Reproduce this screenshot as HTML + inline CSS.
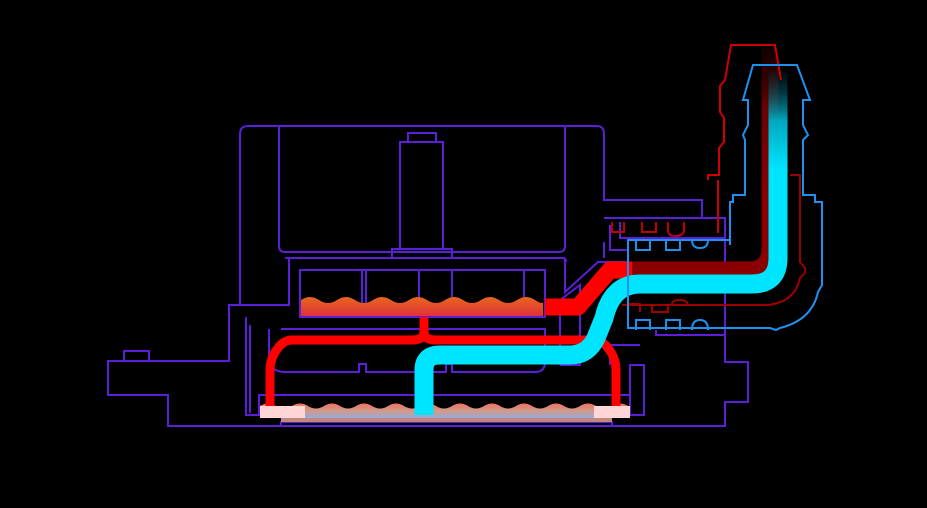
<!DOCTYPE html>
<html><head><style>html,body{margin:0;padding:0;background:#000;width:927px;height:508px;overflow:hidden}</style></head>
<body>
<svg width="927" height="508" viewBox="0 0 927 508" xmlns="http://www.w3.org/2000/svg">
<defs>
<linearGradient id="liq" x1="0" y1="0" x2="0" y2="1"><stop offset="0" stop-color="#e8661e"/><stop offset="1" stop-color="#e0303a"/></linearGradient>
<linearGradient id="cyfade" gradientUnits="userSpaceOnUse" x1="0" y1="170" x2="0" y2="72"><stop offset="0" stop-color="#00e5ff"/><stop offset="0.5" stop-color="#00a8c0"/><stop offset="1" stop-color="#002a30" stop-opacity="0.3"/></linearGradient>
<linearGradient id="rdfade" gradientUnits="userSpaceOnUse" x1="0" y1="200" x2="0" y2="48"><stop offset="0" stop-color="#8a0000"/><stop offset="0.6" stop-color="#6a0000"/><stop offset="1" stop-color="#300000" stop-opacity="0.4"/></linearGradient>
<linearGradient id="plate" x1="0" y1="0" x2="0" y2="1"><stop offset="0" stop-color="#f07060"/><stop offset="0.5" stop-color="#d09a88"/><stop offset="1" stop-color="#9ad"/></linearGradient>
</defs>
<g fill="none" stroke="#5a1fd6" stroke-width="2">
<path d="M108 361 H229 V305 H240 V134 Q240 126 248 126 H597 Q604 126 604 134 V200 H702 V218 H725 V362 H748 V402 H725 V426 H168 V395 H108 Z"/>
<path d="M124 361 V351 H149 V361"/>
<path d="M240 305 H289 V258"/>
<path d="M279 126 V246 Q279 252 285 252 H559 Q565 252 565 246 V126"/>
<path d="M285 258 H563 Q566 258 566 262"/>
<rect x="400" y="142" width="43" height="107"/>
<rect x="408" y="133" width="28" height="9"/>
<rect x="392" y="249" width="60" height="9"/>
<path d="M604 218 H702"/>
<path d="M565 258 V292 L598 262 H628 V252"/>
<path d="M610 225 V250 H628"/>
<path d="M604 242 V258"/>
<rect x="300" y="270" width="245" height="47"/>
<path d="M362 270 V317 M366 270 V317 M419 270 V317 M452 270 V317 M524 270 V317"/>
<path d="M281 329 H545 V362 Q545 372 535 372 H452 V364 H446 V372 H366 V364 H359 V372 H285 Q269 372 269 356 V329"/>
<path d="M246 317 V415 H259"/>
<path d="M250 325 V413"/>
<rect x="259" y="395" width="371" height="20"/>
<path d="M630 395 V365 H644 V415 H630"/>
<path d="M610 365 V345 H640"/>
<path d="M560 365 V300 L580 285 V365 H560"/>
<path d="M168 426 H281 V422 H612 V426"/>
<path d="M656 330 V335 H725"/>
<path d="M620 222 V238 H725"/>
</g>
<path d="M301 300 q9 -6 18 0 t18 0 t18 0 t18 0 t18 0 t18 0 t18 0 t18 0 t18 0 t18 0 t18 0 t18 0 t18 0 t8 0 V316 H301 Z" fill="url(#liq)"/>
<path d="M260 406 q8 -5 16 0 t16 0 t16 0 t16 0 t16 0 t16 0 t16 0 t16 0 t16 0 t16 0 t16 0 t16 0 t16 0 t16 0 t16 0 t16 0 t16 0 t16 0 t16 0 t16 0 t16 0 t16 0 t16 0 V418 H260 Z" fill="url(#plate)"/>
<rect x="260" y="406" width="45" height="12" fill="#ffd6d6"/>
<rect x="594" y="406" width="36" height="12" fill="#ffd6d6"/>
<rect x="281" y="418" width="331" height="4" fill="#c08880"/>
<path d="M424 317 V332 Q424 340 412 340 H292 Q284 340 278 348 Q270 358 270 370 V406" stroke="#ff0000" stroke-width="9" fill="none"/>
<path d="M424 332 Q424 340 436 340 H596 Q602 340 608 348 Q616 358 616 370 V406" stroke="#ff0000" stroke-width="9" fill="none"/>
<path d="M615 270 H748 Q770 270 770 248 V200" stroke="#8a0000" stroke-width="17" fill="none"/>
<path d="M770 201 V48" stroke="url(#rdfade)" stroke-width="17" fill="none"/>
<path d="M545 307 H578 L610 270 H632" stroke="#ff0000" stroke-width="17" fill="none" stroke-linejoin="round"/>
<path d="M424 415 V370 Q424 355 440 355 H570 Q588 355 596 338 L604 318 Q612 284 640 284 H752 Q778 284 778 258 V168" stroke="#00e5ff" stroke-width="19" fill="none"/>
<path d="M778 170 V72" stroke="url(#cyfade)" stroke-width="19" fill="none"/>
<path d="M708 180 V175 H719 V148 L724 142 V118 L720 112 V86 L725 80 L731 45 H775 L781 80 M718 233 V180" stroke="#d00000" stroke-width="2" fill="none"/>
<path d="M790 175 H800 V262 L805 268 V273 L800 278 Q795 302 768 305 H622" stroke="#9a0000" stroke-width="2" fill="none"/>
<path d="M612 222 V232 H624 V222 M642 222 V232 H656 V222 M668 222 V230 Q668 236 675 236 Q684 236 684 230 V222" stroke="#c00000" stroke-width="2" fill="none"/>
<path d="M628 312 V304 H640 V312 M652 304 V312 H668 V304 M672 304 Q672 300 680 300 Q688 300 688 306" stroke="#a00000" stroke-width="2" fill="none"/>
<g stroke="#1e90f0" stroke-width="2" fill="none">
<path d="M730 245 V202 H733 V195 H745 V140 L743 135 L748 125 V100 L743 100 L753 65 H797 L810 100 H803 V125 L808 135 L803 140 V195 H815 V202 H822 V285 L818 292 Q812 320 780 328 L776 330 L770 328 H628 V240 H730"/>
<path d="M636 240 V250 H650 V240 M666 240 V250 H680 V240 M692 240 Q692 248 700 248 Q708 248 708 240 H718"/>
<path d="M636 330 V320 H650 V330 M666 330 V320 H680 V330 M692 330 Q692 320 700 320 Q708 320 708 330"/>
</g>
</svg>
</body></html>
